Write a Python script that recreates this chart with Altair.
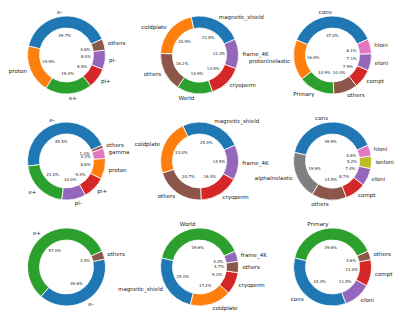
import math
import altair as alt
import pandas as pd

START_DEG = 24  # angle (counter-clockwise from 3 o'clock) where the first wedge begins

# Panel data (counter-clockwise order, as drawn)
p1_labels = ["e-", "proton", "e+", "pi+", "pi-", "others"]
p1_values = [39.7, 19.9, 19.4, 8.5, 8.0, 4.6]

p2_labels = ["magnetic_shield", "coldplate", "others", "World", "cryoperm", "frame_4K"]
p2_values = [21.8, 20.9, 16.2, 14.9, 13.9, 12.3]

p3_labels = ["conv", "protonInelastic", "Primary", "others", "compt", "eIoni", "hIoni"]
p3_values = [37.0, 16.9, 14.9, 10.0, 7.9, 7.1, 6.1]

p4_labels = ["e-", "e+", "pi-", "pi+", "proton", "gamma", "others"]
p4_values = [45.5, 21.0, 10.0, 9.4, 8.6, 4.3, 1.3]

p5_labels = ["magnetic_shield", "coldplate", "others", "cryoperm", "frame_4K"]
p5_values = [25.4, 23.0, 20.7, 16.4, 14.5]

p6_labels = ["conv", "alphaInelastic", "others", "compt", "eIoni", "ionIoni", "hIoni"]
p6_values = [39.9, 19.9, 14.5, 8.7, 7.4, 5.2, 4.6]

p7_labels = ["e+", "e-", "others"]
p7_values = [57.0, 39.6, 3.4]

p8_labels = ["World", "magnetic_shield", "coldplate", "cryoperm", "others", "frame_4K"]
p8_values = [39.6, 25.0, 17.2, 9.2, 4.7, 4.3]

p9_labels = ["Primary", "conv", "eIoni", "compt", "others"]
p9_values = [39.6, 34.3, 11.5, 11.0, 3.6]

COLORS = {
    "e-": "#1f77b4", "proton": "#ff7f0e", "e+": "#2ca02c", "pi+": "#d62728",
    "pi-": "#9467bd", "others": "#8c564b", "gamma": "#e377c2",
    "magnetic_shield": "#1f77b4", "coldplate": "#ff7f0e", "World": "#2ca02c",
    "cryoperm": "#d62728", "frame_4K": "#9467bd",
    "conv": "#1f77b4", "protonInelastic": "#ff7f0e", "Primary": "#2ca02c",
    "compt": "#d62728", "eIoni": "#9467bd", "hIoni": "#e377c2",
    "alphaInelastic": "#7f7f7f", "ionIoni": "#bcbd22",
}

PANEL_W, PANEL_H = 133, 106
R_OUT, R_IN = 39, 27
FONT = "DejaVu Sans"


def donut(labels, values):
    total = sum(values)
    rows = []
    cum = 0.0
    for i, (lab, v) in enumerate(zip(labels, values)):
        mid = START_DEG + 360.0 * (cum + v / 2.0) / total
        side = "left" if math.cos(math.radians(mid)) > 0 else "right"
        rows.append(dict(idx=i, label=lab, value=v, pct=f"{v:.1f}%",
                         color=COLORS[lab], side=side))
        cum += v
    df = pd.DataFrame(rows)
    s = math.radians(90 - START_DEG)
    base = alt.Chart(df).encode(
        theta=alt.Theta("value:Q", stack=True,
                        scale=alt.Scale(range=[s, s + 2 * math.pi])),
        order=alt.Order("idx:Q", sort="descending"),
    )
    arc = base.mark_arc(outerRadius=R_OUT, innerRadius=R_IN, stroke="white",
                        strokeWidth=0.8).encode(color=alt.Color("color:N", scale=None))
    lab = base.mark_text(radius=R_OUT * 1.1, fontSize=5.5, font=FONT, color="#222222",
                         align=alt.ExprRef(expr="datum.side"),
                         baseline="middle").encode(text="label:N")
    pct = base.mark_text(radius=R_OUT * 0.5, fontSize=4.0, font=FONT, color="#222222",
                         align="center", baseline="middle").encode(text="pct:N")
    return alt.layer(arc, lab, pct).properties(width=PANEL_W, height=PANEL_H)


panels = [
    donut(p1_labels, p1_values), donut(p2_labels, p2_values), donut(p3_labels, p3_values),
    donut(p4_labels, p4_values), donut(p5_labels, p5_values), donut(p6_labels, p6_values),
    donut(p7_labels, p7_values), donut(p8_labels, p8_values), donut(p9_labels, p9_values),
]

chart = alt.concat(*panels, columns=3, spacing=0, bounds="flush").properties(
    padding={"top": 2, "left": 0, "right": 0, "bottom": 0},
    background="white",
).configure_view(strokeWidth=0)

chart.save("out.html", embed_options={"renderer": "svg", "actions": False})
